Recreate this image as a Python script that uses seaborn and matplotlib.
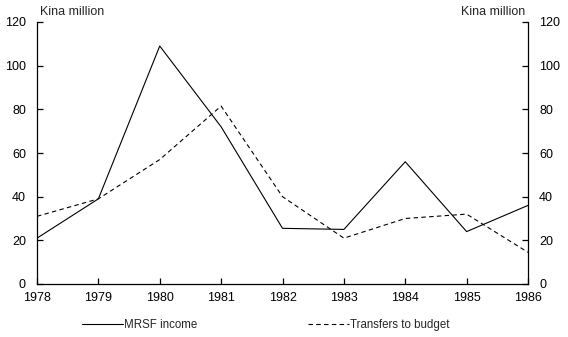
import matplotlib
matplotlib.use("Agg")
import matplotlib.pyplot as plt
import seaborn as sns
import pandas as pd
from matplotlib.lines import Line2D

years = [1978, 1979, 1980, 1981, 1982, 1983, 1984, 1985, 1986]
mrsf_income = [21, 39, 109, 72, 25.5, 25, 56, 24, 36]
transfers = [31, 39, 57, 81.5, 40, 21, 30, 32, 14.5]
series_names = ["MRSF income", "Transfers to budget"]
yticks = [0, 20, 40, 60, 80, 100, 120]

df = pd.concat([
    pd.DataFrame({"Year": years, "Value": mrsf_income, "Series": series_names[0]}),
    pd.DataFrame({"Year": years, "Value": transfers, "Series": series_names[1]}),
])

sns.set_style("white")
plt.rcParams["font.family"] = ["Liberation Sans", "DejaVu Sans"]
plt.rcParams["font.size"] = 9

fig = plt.figure(figsize=(5.68, 3.37), dpi=100)
ax = fig.add_axes([37 / 568, 1 - 284 / 337, (528 - 37) / 568, (284 - 22) / 337])

sns.lineplot(data=df, x="Year", y="Value", hue="Series", style="Series",
             palette=["black", "black"], dashes=[(None, None), (4, 3)],
             linewidth=0.8, ax=ax, legend=False)

ax.set_xlim(1978, 1986)
ax.set_ylim(0, 120)
ax.set_xticks(years)
ax.set_xticklabels([str(y) for y in years])
ax.set_yticks(yticks)
ax.set_xlabel("")
ax.set_ylabel("")
for s in ["left", "right", "bottom"]:
    ax.spines[s].set_visible(True)
    ax.spines[s].set_color("black")
    ax.spines[s].set_linewidth(0.9)
ax.spines["top"].set_visible(False)
ax.tick_params(axis="both", direction="in", length=4, width=0.9, colors="black",
               labelsize=9, left=True, right=True, bottom=True,
               labelleft=True, labelright=True)
ax.tick_params(axis="y", pad=8)
ax.tick_params(axis="x", pad=6)
ax.grid(False)

fig.text(40 / 568, 1 - 12 / 337, "Kina million", ha="left", va="center", fontsize=9)
fig.text(525 / 568, 1 - 12 / 337, "Kina million", ha="right", va="center", fontsize=9)

handles = [Line2D([], [], color="black", lw=0.8),
           Line2D([], [], color="black", lw=0.8, dashes=(4, 3))]
fig.legend(handles, series_names, loc="center left", bbox_to_anchor=(72 / 568, 1 - 325 / 337),
           ncol=2, frameon=False, handlelength=3.5, handletextpad=0.15,
           columnspacing=9.6, fontsize=8.3)

fig.savefig("out.png", dpi=100)
